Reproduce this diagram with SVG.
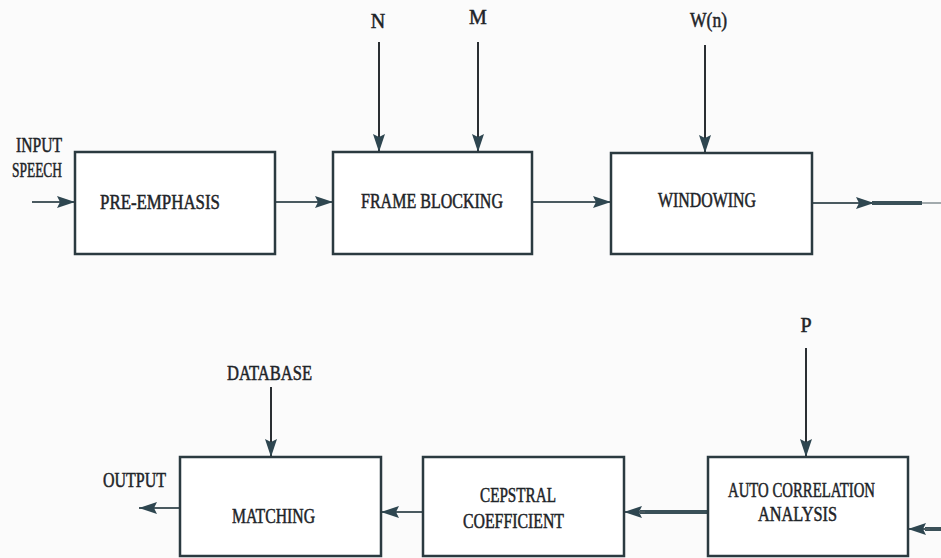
<svg xmlns="http://www.w3.org/2000/svg" width="941" height="558" viewBox="0 0 941 558">
<defs>
<marker id="ah" markerUnits="userSpaceOnUse" markerWidth="20" markerHeight="12" refX="18" refY="6" orient="auto">
<path d="M0,0 L18,6 L0,12 L3,6 z" fill="#2e4650"/>
</marker>
<style>
.box{fill:#ffffff;stroke:#2b3a40;stroke-width:2.5}
.ln{stroke:#4a5a60;stroke-width:2;fill:none}
.vl{stroke:#2a2f33;stroke-width:2;fill:none}
.thick{stroke:#3a5058;stroke-width:4;fill:none}
.t{font-family:"Liberation Serif","Times New Roman",serif;font-size:20px;fill:#1e2428;stroke:#1e2428;stroke-width:0.5}
.c{text-anchor:middle}
</style>
</defs>
<rect width="941" height="558" fill="#fbfbfb"/>

<g id="connectors">
<line class="ln" x1="32" y1="202" x2="75" y2="202" marker-end="url(#ah)"/>
<line class="ln" x1="275" y1="202" x2="333" y2="202" marker-end="url(#ah)"/>
<line class="ln" x1="532" y1="202" x2="611" y2="202" marker-end="url(#ah)"/>
<line class="ln" x1="812" y1="203" x2="874" y2="203" marker-end="url(#ah)"/>
<line class="thick" x1="872" y1="203" x2="922" y2="203"/>
<line class="ln" x1="922" y1="203" x2="941" y2="203" stroke-opacity="0.5"/>
<line class="vl" x1="379" y1="42" x2="379" y2="152" marker-end="url(#ah)"/>
<line class="vl" x1="478" y1="42" x2="478" y2="152" marker-end="url(#ah)"/>
<line class="vl" x1="705" y1="45" x2="705" y2="153" marker-end="url(#ah)"/>
<line class="vl" x1="806" y1="348" x2="806" y2="457" marker-end="url(#ah)"/>
<line class="vl" x1="271" y1="387" x2="271" y2="457" marker-end="url(#ah)"/>
<line class="thick" x1="941" y1="529" x2="925" y2="529"/>
<line class="ln" x1="930" y1="529" x2="908" y2="529" marker-end="url(#ah)"/>
<line class="thick" x1="708" y1="512" x2="640" y2="512"/>
<line class="ln" x1="645" y1="512" x2="624" y2="512" marker-end="url(#ah)"/>
<line class="ln" x1="423" y1="512" x2="381" y2="512" marker-end="url(#ah)"/>
<line class="ln" x1="180" y1="508" x2="139" y2="508" marker-end="url(#ah)"/>
</g>

<g id="labels">
<text class="t" x="16" y="152" textLength="46" lengthAdjust="spacingAndGlyphs">INPUT</text>
<text class="t" x="12" y="177" textLength="50" lengthAdjust="spacingAndGlyphs">SPEECH</text>
<text class="t c" x="378" y="28">N</text>
<text class="t c" x="478" y="24">M</text>
<text class="t" x="690" y="27" textLength="37" lengthAdjust="spacingAndGlyphs">W(n)</text>
<text class="t c" x="806" y="332">P</text>
<text class="t" x="227" y="380" textLength="85" lengthAdjust="spacingAndGlyphs">DATABASE</text>
<text class="t" x="103" y="487" textLength="63" lengthAdjust="spacingAndGlyphs">OUTPUT</text>
</g>

<g id="pre-emphasis">
<rect class="box" x="75" y="152" width="200" height="102"/>
<text class="t" x="100" y="209" textLength="120" lengthAdjust="spacingAndGlyphs">PRE-EMPHASIS</text>
</g>
<g id="frame-blocking">
<rect class="box" x="333" y="152" width="199" height="102"/>
<text class="t" x="361" y="208" textLength="142" lengthAdjust="spacingAndGlyphs">FRAME BLOCKING</text>
</g>
<g id="windowing">
<rect class="box" x="611" y="153" width="201" height="101"/>
<text class="t" x="658" y="207" textLength="98" lengthAdjust="spacingAndGlyphs">WINDOWING</text>
</g>
<g id="matching">
<rect class="box" x="180" y="457" width="201" height="99"/>
<text class="t" x="232" y="523" textLength="83" lengthAdjust="spacingAndGlyphs">MATCHING</text>
</g>
<g id="cepstral">
<rect class="box" x="423" y="457" width="201" height="99"/>
<text class="t" x="480" y="502" textLength="76" lengthAdjust="spacingAndGlyphs">CEPSTRAL</text>
<text class="t" x="463" y="528" textLength="101" lengthAdjust="spacingAndGlyphs">COEFFICIENT</text>
</g>
<g id="autocorrelation">
<rect class="box" x="708" y="457" width="200" height="99"/>
<text class="t" x="728" y="497" textLength="147" lengthAdjust="spacingAndGlyphs">AUTO CORRELATION</text>
<text class="t" x="758" y="521" textLength="79" lengthAdjust="spacingAndGlyphs">ANALYSIS</text>
</g>
</svg>
